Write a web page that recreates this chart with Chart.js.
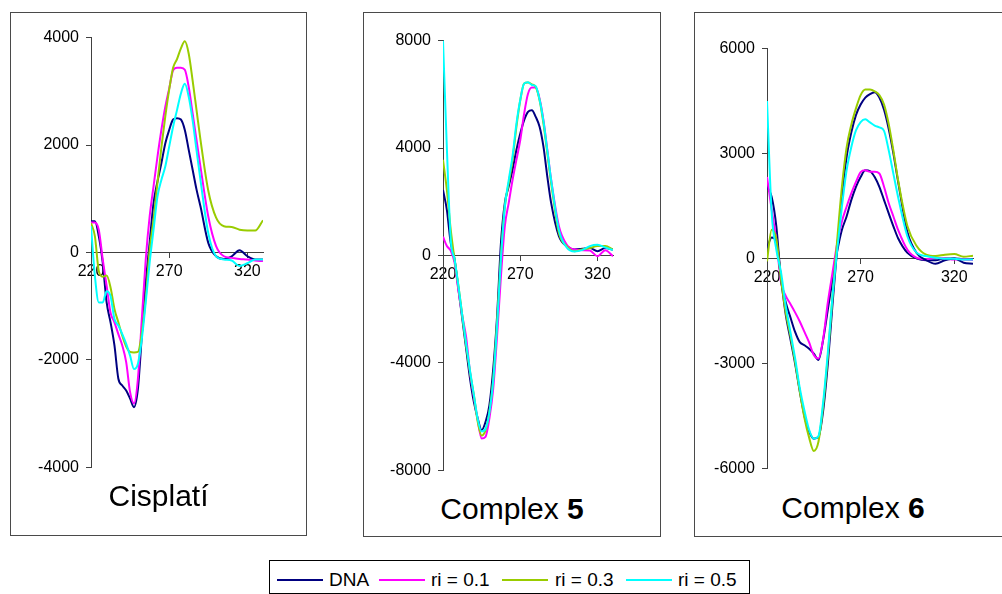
<!DOCTYPE html>
<html>
<head>
<meta charset="utf-8">
<script src="https://cdn.jsdelivr.net/npm/chart.js@4.4.1/dist/chart.umd.min.js"></script>
<style>
  html, body { margin: 0; padding: 0; background: #fff; }
  body { width: 1002px; height: 594px; position: relative; overflow: hidden; font-family: "Liberation Sans", Arial, sans-serif; }
  .frame { position: absolute; border: 1px solid #4a4a4a; box-sizing: border-box; }
  .plot { position: absolute; }
  .title { position: absolute; font-size: 30px; line-height: 30px; color: #000; text-align: center; white-space: nowrap; }
  #legend { position: absolute; left: 269px; top: 560px; width: 481px; height: 34px; border: 1px solid #000; box-sizing: border-box; }
  .key { position: absolute; top: 18px; height: 2px; width: 46px; }
  .lab { position: absolute; top: 9px; font-size: 19px; line-height: 19px; color: #000; white-space: nowrap; }
</style>
</head>
<body>

<div class="frame" style="left:10px;top:12px;width:297px;height:524px"></div>
<div class="frame" style="left:363px;top:12px;width:298px;height:525px"></div>
<div class="frame" style="left:694px;top:12px;width:312px;height:525px"></div>

<div class="plot" style="left:21px;top:21px;width:257px;height:463px"><canvas id="cis"></canvas></div>
<div class="plot" style="left:373px;top:24px;width:255px;height:463px"><canvas id="c5"></canvas></div>
<div class="plot" style="left:697px;top:32px;width:291px;height:453px"><canvas id="c6"></canvas></div>

<div class="title" style="left:10px;top:481px;width:297px">Cisplatí</div>
<div class="title" style="left:363px;top:494px;width:298px">Complex <b>5</b></div>
<div class="title" style="left:753px;top:493px;width:200px">Complex <b>6</b></div>

<div id="legend">
  <div class="key" style="left:7px;background:#000080"></div><div class="lab" style="left:59px">DNA</div>
  <div class="key" style="left:109px;background:#FF00FF"></div><div class="lab" style="left:161px">ri = 0.1</div>
  <div class="key" style="left:232px;background:#99CC00"></div><div class="lab" style="left:285px">ri = 0.3</div>
  <div class="key" style="left:356px;background:#00FFFF"></div><div class="lab" style="left:408px">ri = 0.5</div>
</div>

<script>
// wavelength (nm), shared by every curve
const wavelength = [220, 222.5, 225, 227.5, 230, 232.5, 235, 237.5, 240, 242.5, 245, 247.5, 250, 252.5, 255, 257.5,
  260, 262.5, 265, 267.5, 270, 272.5, 275, 277.5, 280, 282.5, 285, 287.5, 290, 295, 300, 305, 310, 315, 320, 325, 330];

const xTicks = [220, 270, 320];
const cisTicks = [-4000, -2000, 0, 2000, 4000];
const c5Ticks = [-8000, -4000, 0, 4000, 8000];
const c6Ticks = [-6000, -3000, 0, 3000, 6000];

// Cisplatí
const cisDNA = [580, 580, 300, -190, -930, -1300, -1730, -2350, -2475, -2570, -2720, -2880, -2540, -1550, -560, 180,
  920, 1320, 1660, 2030, 2280, 2475, 2500, 2475, 2280, 1910, 1540, 1170, 860, 180, -70, -120, -70, 40, -70, -130, -130];
const cisR01 = [560, 560, 420, -130, -620, -1120, -1300, -1520, -1730, -2040, -2600, -2810, -2350, -1240, -130, 670,
  1230, 1780, 2280, 2710, 3050, 3390, 3440, 3440, 3400, 3080, 2590, 2090, 1600, 670, 120, -70, -100, -120, -130, -150, -160];
const cisR03 = [550, 300, -350, -450, -430, -650, -1050, -1300, -1550, -1750, -1850, -1860, -1850, -1500, -850, 50,
  620, 1300, 1950, 2530, 3030, 3440, 3600, 3800, 3930, 3700, 3200, 2650, 2100, 1150, 650, 490, 475, 425, 410, 410, 600];
const cisR05 = [490, -440, -930, -930, -720, -810, -1240, -1360, -1520, -1700, -1920, -2170, -2070, -1610, -930, -190,
  425, 1040, 1350, 1600, 1970, 2340, 2650, 2960, 3140, 2900, 2460, 1900, 1350, 360, -70, -130, -150, -250, -200, -130, -130];

// Complex 5
const c5DNA = [2440, 1700, 470, -150, -1260, -2370, -3480, -4590, -5460, -6070, -6500, -6200, -5580, -4220, -2250, 470,
  1950, 2570, 3190, 3930, 4540, 5040, 5350, 5410, 5160, 4790, 4050, 2940, 1950, 720, 350, 220, 250, 280, 160, 280, 220];
const c5R01 = [700, 350, 180, -270, -1320, -2250, -3050, -4350, -5270, -6140, -6810, -6750, -6070, -4960, -2990, -770,
  1090, 1950, 2810, 3560, 4300, 5280, 6020, 6250, 6250, 5840, 5040, 3930, 2810, 1090, 410, 220, 200, 185, -25, 200, -25];
const c5R03 = [3560, 2440, 960, -150, -1140, -2250, -3360, -4350, -5210, -6200, -6700, -6510, -5830, -4590, -2470, -25,
  1830, 2690, 3560, 4790, 5780, 6400, 6440, 6370, 6270, 5780, 4910, 3810, 2690, 840, 350, 160, 220, 280, 350, 350, 220];
const c5R05 = [8000, 4000, 600, -150, -1140, -2250, -3300, -4300, -5200, -6100, -6550, -6450, -5850, -4650, -2600, -100,
  1800, 2800, 3700, 4900, 5800, 6400, 6450, 6350, 6300, 5800, 5000, 3900, 2800, 950, 300, 150, 200, 350, 400, 300, 200];

// Complex 6 (two DNA traces)
const c6DNA = [2050, 1760, 915, -600, -1250, -1680, -2100, -2390, -2480, -2580, -2720, -2900, -2320, -1450, -600, 210,
  820, 1200, 1670, 2050, 2330, 2520, 2500, 2330, 2050, 1670, 1290, 920, 580, 160, 0, -50, -50, 0, 0, -20, -20];
const c6DNAb = [300, 600, 500, -600, -1600, -2300, -3000, -3800, -4500, -4950, -5150, -5100, -4350, -3000, -1300, 300,
  1800, 2900, 3600, 4100, 4400, 4600, 4700, 4750, 4600, 4250, 3700, 3000, 2200, 750, 150, -50, -150, -50, 0, -120, -150];
const c6R01 = [2330, 1400, 500, -690, -1070, -1300, -1540, -1800, -2100, -2400, -2760, -2860, -2290, -1250, -400, 440,
  1060, 1480, 1860, 2190, 2470, 2520, 2480, 2480, 2430, 2050, 1580, 1200, 820, 250, 20, -20, 20, 0, -30, -20, -40];
const c6R03 = [-80, 820, 550, -600, -1540, -2200, -2950, -3800, -4560, -5120, -5500, -5230, -4200, -2780, -1070, 540,
  2050, 3170, 3820, 4290, 4670, 4830, 4830, 4780, 4670, 4400, 3840, 3080, 2240, 920, 350, 110, 70, 110, 130, 50, 80];
const c6R05 = [4500, 1300, 250, -400, -1350, -2100, -2850, -3700, -4350, -4900, -5150, -5070, -4100, -2680, -1070, 250,
  1480, 2520, 3180, 3660, 3900, 3980, 3890, 3800, 3750, 3650, 3090, 2420, 1760, 630, 160, 70, 20, -10, -10, -30, -30];

const colors = { dna: '#000080', r01: '#FF00FF', r03: '#99CC00', r05: '#00FFFF' };
const axisColor = '#404040';
const tickFont = { family: '"Liberation Sans", Arial, sans-serif', size: 16 };

function series(values, color, order) {
  return {
    data: values.map((v, i) => ({ x: wavelength[i], y: v })),
    borderColor: color,
    borderWidth: 2,
    pointRadius: 0,
    cubicInterpolationMode: 'monotone',
    fill: false,
    order: order
  };
}

function drawPanel(id, datasets, yTicks) {
  new Chart(document.getElementById(id), {
    type: 'line',
    data: { datasets: datasets },
    options: {
      animation: false,
      responsive: true,
      maintainAspectRatio: false,
      layout: { padding: { left: 0, top: 15, right: 15, bottom: 15 } },
      plugins: { legend: { display: false }, tooltip: { enabled: false } },
      scales: {
        x: {
          type: 'linear',
          min: 220,
          max: 330,
          position: { y: 0 },
          afterBuildTicks: s => { s.ticks = xTicks.map(v => ({ value: v })); },
          afterFit: s => { s.height = 0; },
          grid: { drawOnChartArea: false, tickLength: 5, color: axisColor },
          border: { color: axisColor, width: 1 },
          ticks: { color: '#000', font: tickFont, padding: 4, maxRotation: 0, autoSkip: false }
        },
        y: {
          min: yTicks[0],
          max: yTicks[yTicks.length - 1],
          afterBuildTicks: s => { s.ticks = yTicks.map(v => ({ value: v })); },
          afterFit: s => { s.width = 70; },
          grid: { drawOnChartArea: false, tickLength: 5, color: axisColor },
          border: { color: axisColor, width: 1 },
          ticks: { color: '#000', font: tickFont, padding: 7, callback: v => String(v) }
        }
      }
    }
  });
}

drawPanel('cis', [
  series(cisDNA, colors.dna, 4),
  series(cisR01, colors.r01, 3),
  series(cisR03, colors.r03, 2),
  series(cisR05, colors.r05, 1)
], cisTicks);

drawPanel('c5', [
  series(c5DNA, colors.dna, 4),
  series(c5R01, colors.r01, 3),
  series(c5R03, colors.r03, 2),
  series(c5R05, colors.r05, 1)
], c5Ticks);

drawPanel('c6', [
  series(c6DNA, colors.dna, 5),
  series(c6R01, colors.r01, 4),
  series(c6DNAb, colors.dna, 3),
  series(c6R03, colors.r03, 2),
  series(c6R05, colors.r05, 1)
], c6Ticks);
</script>
</body>
</html>
